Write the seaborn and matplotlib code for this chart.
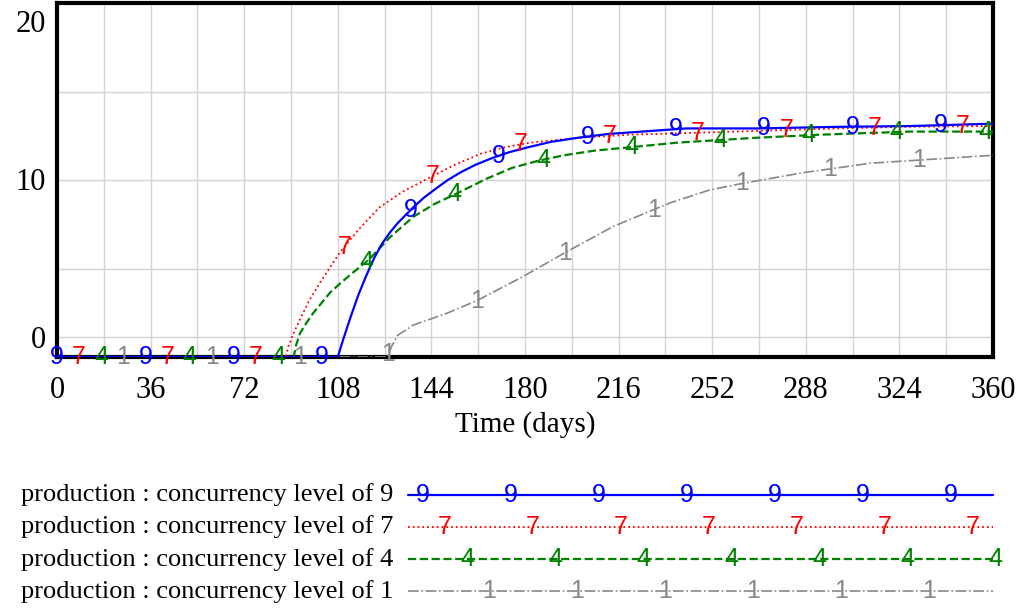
import numpy as np
import pandas as pd
import matplotlib
matplotlib.use("Agg")
import matplotlib.pyplot as plt
import seaborn as sns

# Data (time in days, production value)
floor = -1.27  # flat starting level, sits on the bottom of the axes

t9 = [0, 108, 110, 113, 116, 119, 122, 125, 128, 131, 134, 137, 141, 145, 150, 155, 161, 167, 174, 181, 190, 200, 212, 225, 242, 270, 300, 328, 360]
v9 = [floor, floor, -0.2, 1.3, 2.7, 3.9, 5.0, 5.9, 6.6, 7.2, 7.7, 8.2, 8.8, 9.3, 9.9, 10.4, 10.9, 11.3, 11.7, 12.0, 12.35, 12.6, 12.85, 13.0, 13.2, 13.2, 13.3, 13.35, 13.5]

t7 = [0, 88, 89, 91, 94, 97, 101, 105, 109, 116, 124, 133, 143.5, 153, 163, 172, 182, 200, 220, 261, 290, 325, 360]
v7 = [floor, floor, -0.6, 0.25, 1.3, 2.3, 3.4, 4.4, 5.4, 6.8, 8.2, 9.2, 10.1, 10.9, 11.6, 12.0, 12.3, 12.6, 12.8, 13.0, 13.15, 13.3, 13.35]

t4 = [0, 91, 92, 93.5, 96, 98.5, 102, 105, 109, 114, 120, 128, 137, 145, 154, 165, 175, 185, 195, 207, 220, 238.5, 268, 293, 328, 360]
v4 = [floor, floor, -0.5, 0.25, 0.9, 1.5, 2.2, 2.8, 3.4, 4.1, 4.9, 6.3, 7.6, 8.4, 9.1, 10.0, 10.7, 11.15, 11.5, 11.8, 12.0, 12.3, 12.6, 12.8, 13.0, 13.0]

t1 = [0, 127, 129, 131, 137, 150, 161.5, 179, 195, 214, 236, 251, 263, 287, 313, 332, 360]
v1 = [floor, floor, -0.5, 0.1, 0.75, 1.5, 2.3, 3.8, 5.3, 7.0, 8.5, 9.3, 9.7, 10.4, 11.0, 11.2, 11.5]

series = [
    ("production : concurrency level of 9", "9", t9, v9, "#0000ff", "-", 1.6),
    ("production : concurrency level of 7", "7", t7, v7, "#ff0000", ":", 1.3),
    ("production : concurrency level of 4", "4", t4, v4, "#008000", "--", 1.6),
    ("production : concurrency level of 1", "1", t1, v1, "#888888", "-.", 1.2),
]

x_ticks = np.arange(0, 361, 36)
y_ticks = [0, 10, 20]
marker_step = 34.0
marker_offset = 8.5

sns.set_style("white")
plt.rcParams["font.family"] = ["Liberation Serif", "DejaVu Serif"]
plt.rcParams["text.color"] = "black"
plt.rcParams["axes.labelcolor"] = "black"
plt.rcParams["xtick.color"] = "black"
plt.rcParams["ytick.color"] = "black"

mk_font = ["Liberation Sans", "DejaVu Sans"]
mk_size = 18

fig = plt.figure(figsize=(10.17, 6.08), dpi=100)
ax = fig.add_axes([57 / 1017, 1 - 357 / 608, (993 - 57) / 1017, (357 - 3) / 608])

for i, (name, mk, t, v, col, ls, lw) in enumerate(series):
    df = pd.DataFrame({"time": t, "value": v})
    sns.lineplot(data=df, x="time", y="value", ax=ax, color=col, linestyle=ls,
                 linewidth=lw, zorder=3 + (3 - i))
    # number markers along the curve
    mt = np.arange(i * marker_offset, 361, marker_step)
    for x in mt:
        ax.text(x, np.interp(x, t, v), mk, color=col, ha="center", va="center",
                fontsize=mk_size, family=mk_font, clip_on=False, zorder=8)

ax.set_xlim(0, 360)
ax.set_ylim(floor, 21.14)
ax.set_xticks(x_ticks)
ax.set_yticks(y_ticks)
ax.tick_params(axis="both", which="both", length=0, labelsize=22)
ax.tick_params(axis="x", pad=14)
ax.tick_params(axis="y", pad=8)

# light grid
ax.grid(False)
for x in np.arange(18, 360, 18):
    ax.axvline(x, color="#d3d3d3", lw=1, zorder=1)
lo, hi = ax.get_ylim()
for y in list(np.linspace(lo, hi, 5)[1:-1]) + [0]:
    ax.axhline(y, color="#d3d3d3", lw=1, zorder=1)

for s in ax.spines.values():
    s.set_visible(True)
    s.set_color("black")
    s.set_linewidth(3)
ax.set_xlabel("Time (days)", fontsize=21, labelpad=4)
ax.set_ylabel("")

# legend block underneath
lg = fig.add_axes([408 / 1017, 1 - 604 / 608, (993 - 408) / 1017, (604 - 482) / 608])
lg.set_xlim(0, 1)
lg.set_ylim(3.4, -0.4)
lg.axis("off")
leg_step = 88 / 585
leg_first = 15 / 585
leg_off = 22 / 585
for i, (name, mk, t, v, col, ls, lw) in enumerate(series):
    lg.plot([0, 1], [i, i], color=col, linestyle=ls, linewidth=lw, clip_on=False)
    for x in np.arange(leg_first + i * leg_off, 1.01, leg_step):
        lg.text(x, i, mk, color=col, ha="center", va="center", fontsize=mk_size,
                family=mk_font, clip_on=False)
    lg.text(-15 / 585, i, name, ha="right", va="center", fontsize=19, clip_on=False)

fig.savefig("out.png", dpi=100)
